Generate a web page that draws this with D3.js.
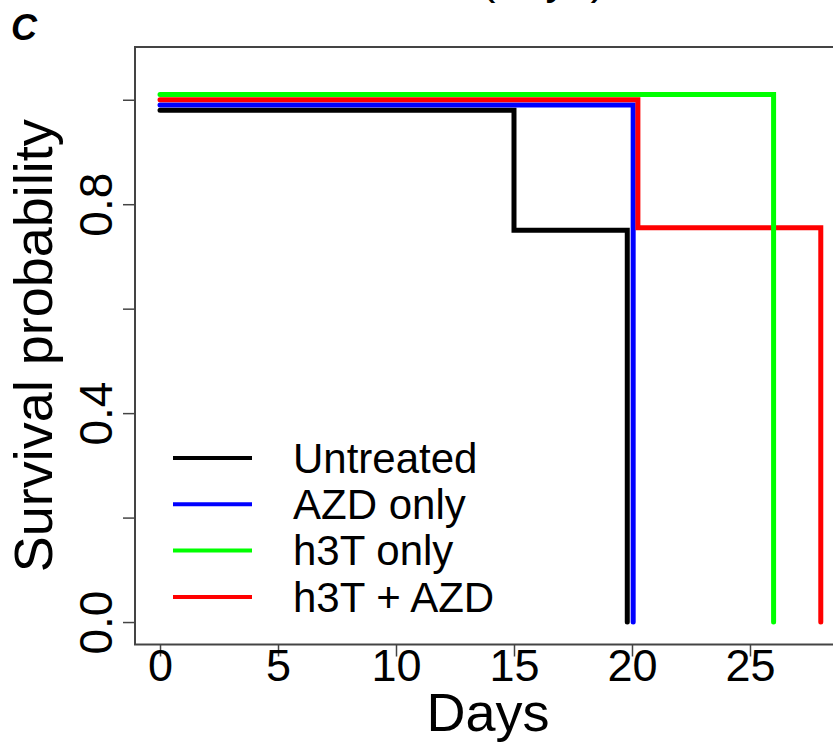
<!DOCTYPE html>
<html>
<head>
<meta charset="utf-8">
<script src="https://cdn.jsdelivr.net/npm/d3@7"></script>
<style>
  body { margin: 0; background: #fff; }
  text { font-family: "Liberation Sans", Arial, sans-serif; fill: #000; }
</style>
</head>
<body>
<svg class="km" width="833" height="744"></svg>
<script>
// groups in legend order
const groups = ["Untreated", "AZD only", "h3T only", "h3T + AZD"];
const colors = ["#000000", "#0000ff", "#00ff00", "#ff0000"];

// step curves: day where each level starts, and the level
const untreatedDays = [0, 15, 19.8];
const untreatedSurv = [0.98, 0.75, 0];
const azdDays = [0, 20.05];
const azdSurv = [0.99, 0];
const h3tDays = [0, 26];
const h3tSurv = [1.01, 0];
const comboDays = [0, 20.25, 28];
const comboSurv = [1.0, 0.755, 0];

const xTicks = [0, 5, 10, 15, 20, 25];
const yTicks = [0, 0.2, 0.4, 0.6, 0.8, 1.0];
const yLabelled = [0, 0.4, 0.8];

let svg = d3.select(".km");

let x = d3.scaleLinear().domain([-1.06, 29.06]).range([135, 845.8]);
let y = d3.scaleLinear().domain([-0.043, 1.101]).range([644.5, 47]);

// panel letter
svg.append("text")
  .attr("x", 11)
  .attr("y", 40)
  .style("font-size", "36px")
  .style("font-weight", "bold")
  .style("font-style", "italic")
  .text("C");

// bit of the panel above, cut off by the crop
svg.append("text")
  .attr("x", 543)
  .attr("y", -6)
  .attr("text-anchor", "middle")
  .style("font-size", "45px")
  .text("(days)");

// frame
svg.append("rect")
  .attr("x", x.range()[0])
  .attr("y", y.range()[1])
  .attr("width", x.range()[1] - x.range()[0])
  .attr("height", y.range()[0] - y.range()[1])
  .attr("fill", "none")
  .attr("stroke", "#444")
  .attr("stroke-width", 2);

// x axis
let xAxis = svg.append("g")
  .attr("transform", `translate(0,${y.range()[0]})`)
  .call(d3.axisBottom(x).tickValues(xTicks).tickSize(12).tickFormat(d3.format("d")));
xAxis.select(".domain").remove();
xAxis.selectAll("line").attr("stroke", "#444").attr("stroke-width", 1.5);
xAxis.selectAll("text")
  .attr("y", 36)
  .attr("dy", 0)
  .style("font-size", "45px")
  .style("font-family", "'Liberation Sans', Arial, sans-serif");

// y axis, labels turned like base R
let yAxis = svg.append("g")
  .attr("transform", `translate(${x.range()[0]},0)`)
  .call(d3.axisLeft(y).tickValues(yTicks).tickSize(12)
    .tickFormat(d => yLabelled.includes(d) ? d3.format(".1f")(d) : ""));
yAxis.select(".domain").remove();
yAxis.selectAll("line").attr("stroke", "#444").attr("stroke-width", 1.5);
yAxis.selectAll("text")
  .attr("transform", "rotate(-90)")
  .attr("x", 0)
  .attr("y", -23)
  .attr("dy", 0)
  .attr("text-anchor", "middle")
  .style("font-size", "46px")
  .style("font-family", "'Liberation Sans', Arial, sans-serif");

// axis titles
svg.append("text")
  .attr("x", 488)
  .attr("y", 731)
  .attr("text-anchor", "middle")
  .style("font-size", "54px")
  .text("Days");

svg.append("text")
  .attr("transform", `translate(52,${(y.range()[0] + y.range()[1]) / 2}) rotate(-90)`)
  .attr("text-anchor", "middle")
  .style("font-size", "54px")
  .text("Survival probability");

// curves
let curves = [
  { name: groups[0], color: colors[0], days: untreatedDays, surv: untreatedSurv },
  { name: groups[1], color: colors[1], days: azdDays, surv: azdSurv },
  { name: groups[3], color: colors[3], days: comboDays, surv: comboSurv },
  { name: groups[2], color: colors[2], days: h3tDays, surv: h3tSurv }
];

let step = d3.line()
  .x(d => x(d[0]))
  .y(d => y(d[1]))
  .curve(d3.curveStepAfter);

svg.append("g")
  .selectAll("path")
  .data(curves)
  .enter()
  .append("path")
  .attr("d", c => step(c.days.map((t, i) => [t, c.surv[i]])))
  .attr("fill", "none")
  .attr("stroke", c => c.color)
  .attr("stroke-width", 5)
  .attr("stroke-linejoin", "miter")
  .attr("stroke-linecap", "round");

// legend
let legend = svg.append("g")
  .selectAll("g")
  .data(groups)
  .enter()
  .append("g")
  .attr("transform", (d, i) => `translate(173,${458 + i * 46.3})`);

legend.append("line")
  .attr("x1", 0)
  .attr("x2", 79)
  .attr("stroke", (d, i) => colors[i])
  .attr("stroke-width", 4);

legend.append("text")
  .attr("x", 120)
  .attr("dy", "0.35em")
  .style("font-size", "42px")
  .text(d => d);
</script>
</body>
</html>
